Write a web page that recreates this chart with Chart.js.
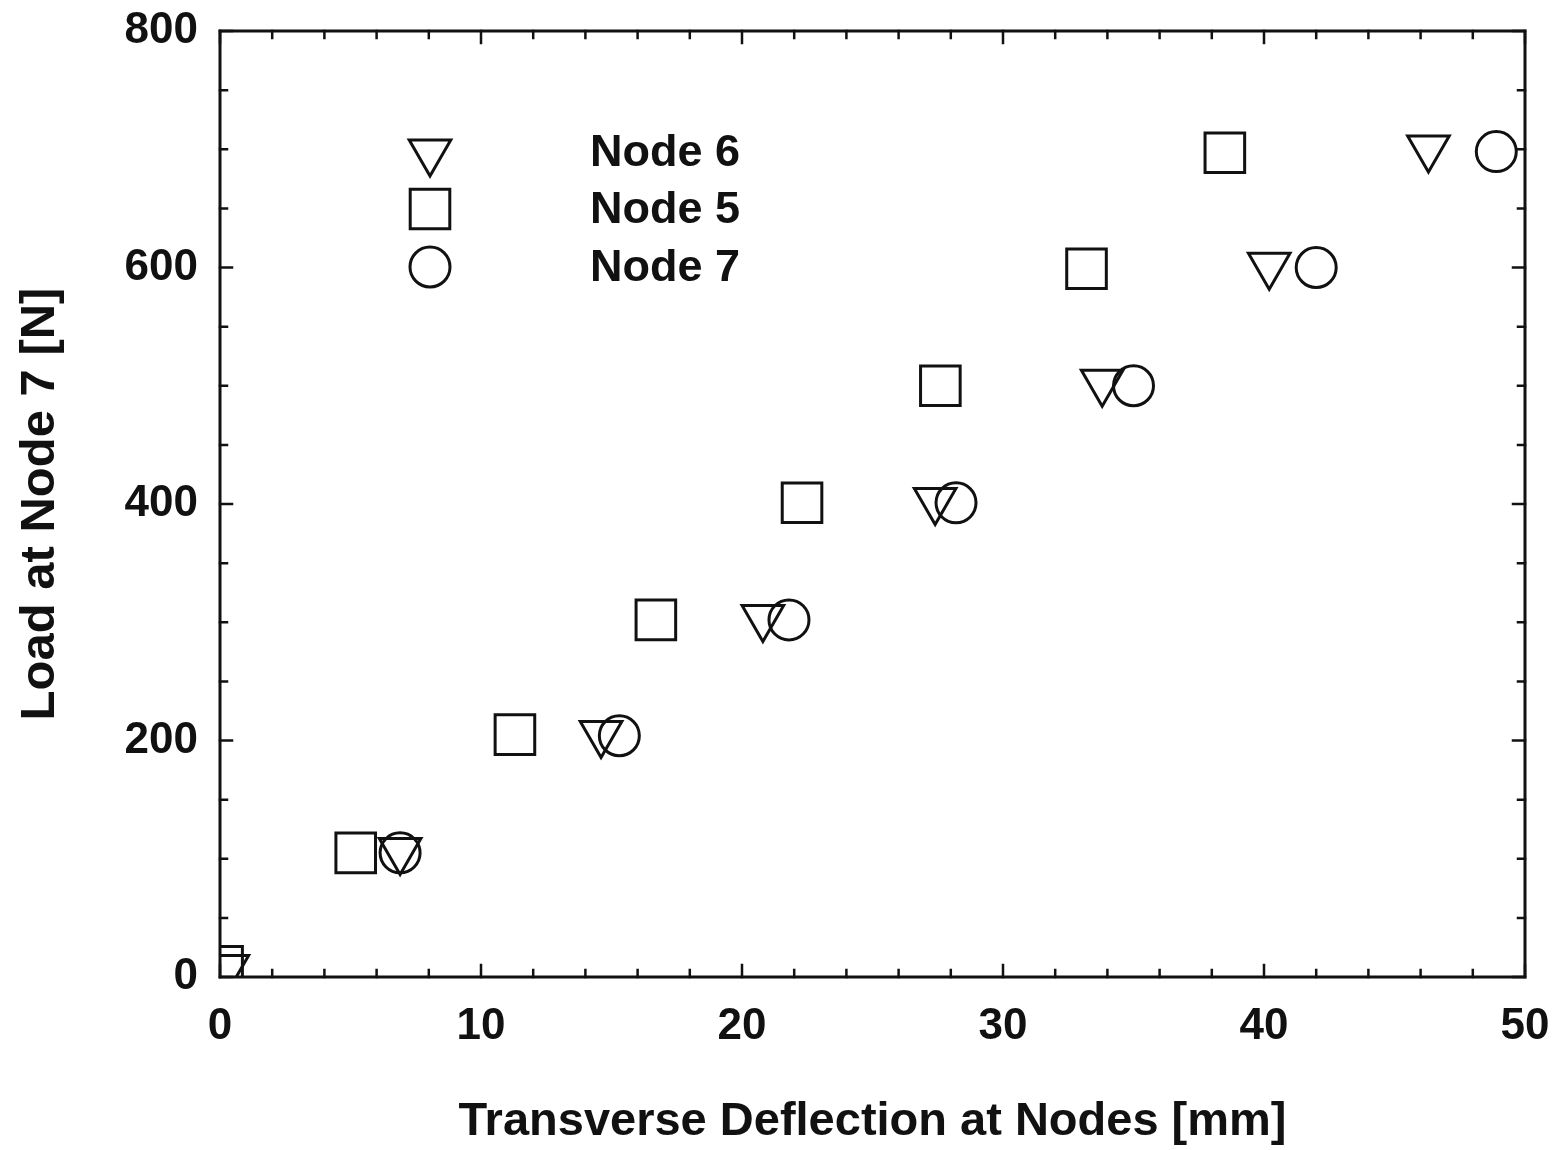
<!DOCTYPE html>
<html><head><meta charset="utf-8">
<script src="https://cdn.jsdelivr.net/npm/chart.js@4/dist/chart.umd.min.js"></script>
<style>html,body{margin:0;padding:0;background:#fff}#wrap{width:1564px;height:1150px}</style>
</head><body><div id="wrap"><canvas id="c" width="1564" height="1150"></canvas></div>
<script>
const seriesNames = ['Node 6', 'Node 5', 'Node 7'];
const node6X = [0.3, 6.9, 14.6, 20.8, 27.4, 33.8, 40.2, 46.3];
const node6Y = [8, 107, 206, 304, 403, 503, 602, 701];
const node5X = [0.1, 5.2, 11.3, 16.7, 22.3, 27.6, 33.2, 38.5];
const node5Y = [9, 105, 205, 302, 401, 500, 599, 697];
const node7X = [6.9, 15.3, 21.8, 28.2, 35.0, 42.0, 48.9];
const node7Y = [105, 204, 302, 401, 500, 600, 698];
const xLabelStep = 10, xMinorStep = 2;
const yLabelStep = 200, yMinorStep = 50;
const xTitle = 'Transverse Deflection at Nodes [mm]';
const yTitle = 'Load at Node 7 [N]';

const toPts = (xs, ys) => xs.map((x, i) => ({x: x, y: ys[i]}));
const INK = '#111';
const FONT = '"Liberation Sans", Arial, sans-serif';

const styles = {
  'Node 6': {pointStyle: 'triangle', rotation: 180, radius: 24},
  'Node 5': {pointStyle: 'rect', rotation: 0, radius: 28},
  'Node 7': {pointStyle: 'circle', rotation: 0, radius: 20}
};
const dataMap = {
  'Node 6': toPts(node6X, node6Y),
  'Node 5': toPts(node5X, node5Y),
  'Node 7': toPts(node7X, node7Y)
};

const frameAndTicks = {
  id: 'frameAndTicks',
  afterDraw(chart) {
    const ctx = chart.ctx, a = chart.chartArea;
    const xs = chart.scales.x, ys = chart.scales.y;
    ctx.save();
    ctx.strokeStyle = INK;
    ctx.lineWidth = 2.5;
    ctx.lineCap = 'square';
    for (let v = xs.min; v <= xs.max + 1e-9; v += xMinorStep) {
      const p = xs.getPixelForValue(v);
      const len = (Math.abs(v % xLabelStep) < 1e-9) ? 12 : 7;
      ctx.beginPath();
      ctx.moveTo(p, a.bottom); ctx.lineTo(p, a.bottom - len);
      ctx.moveTo(p, a.top); ctx.lineTo(p, a.top + len);
      ctx.stroke();
    }
    for (let v = ys.min; v <= ys.max + 1e-9; v += yMinorStep) {
      const p = ys.getPixelForValue(v);
      const len = (Math.abs(v % yLabelStep) < 1e-9) ? 12 : 7;
      ctx.beginPath();
      ctx.moveTo(a.left, p); ctx.lineTo(a.left + len, p);
      ctx.moveTo(a.right, p); ctx.lineTo(a.right - len, p);
      ctx.stroke();
    }
    ctx.lineWidth = 3;
    ctx.strokeRect(a.left, a.top, a.right - a.left, a.bottom - a.top);

    // legend inside plot
    const lx = 430, ly = [152, 209, 267], tx = 590;
    seriesNames.forEach((n, i) => {
      const s = styles[n];
      ctx.lineWidth = 3;
      ctx.strokeStyle = INK;
      ctx.fillStyle = 'rgba(0,0,0,0)';
      Chart.helpers.drawPoint(ctx, {pointStyle: s.pointStyle, rotation: s.rotation, radius: s.radius, borderWidth: 3}, lx, ly[i]);
      ctx.fillStyle = INK;
      ctx.font = 'bold 45px ' + FONT;
      ctx.textBaseline = 'middle';
      ctx.textAlign = 'left';
      ctx.fillText(n, tx, ly[i] + 2);
    });
    ctx.restore();
  }
};

function zeroPad(s) { s.paddingTop = 0; s.paddingBottom = 0; s.paddingLeft = 0; s.paddingRight = 0; }

new Chart(document.getElementById('c'), {
  type: 'scatter',
  data: {
    datasets: seriesNames.map(n => ({
      label: n,
      data: dataMap[n],
      pointStyle: styles[n].pointStyle,
      rotation: styles[n].rotation,
      pointRadius: styles[n].radius,
      pointHoverRadius: styles[n].radius,
      borderColor: INK,
      backgroundColor: 'rgba(0,0,0,0)',
      pointBorderWidth: 3,
      showLine: false
    }))
  },
  options: {
    responsive: false,
    animation: false,
    devicePixelRatio: 1,
    layout: {padding: {top: 30, right: 39, left: 0, bottom: 0}},
    plugins: {legend: {display: false}, tooltip: {enabled: false}},
    scales: {
      x: {
        type: 'linear', min: 0, max: 50,
        grid: {display: false, drawTicks: false},
        border: {display: false},
        ticks: {stepSize: xLabelStep, color: INK, padding: 23, font: {family: FONT, weight: 'bold', size: 44}, maxRotation: 0},
        title: {display: true, text: xTitle, color: INK, font: {family: FONT, weight: 'bold', size: 47}, padding: {top: 30, bottom: 0}},
        afterFit(s) { s.height = 173; zeroPad(s); }
      },
      y: {
        type: 'linear', min: 0, max: 800,
        grid: {display: false, drawTicks: false},
        border: {display: false},
        ticks: {stepSize: yLabelStep, color: INK, padding: 22, font: {family: FONT, weight: 'bold', size: 44}},
        title: {display: true, text: yTitle, color: INK, font: {family: FONT, weight: 'bold', size: 49}, padding: {top: 11, bottom: 10}},
        afterFit(s) { s.width = 220; zeroPad(s); }
      }
    }
  },
  plugins: [frameAndTicks]
});
</script>
</body></html>
